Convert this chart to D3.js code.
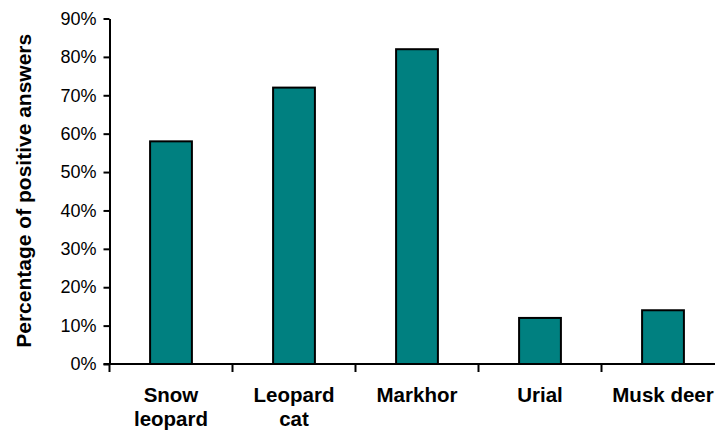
<!DOCTYPE html>
<html>
<head>
<meta charset="utf-8">
<script src="https://cdn.jsdelivr.net/npm/d3@7"></script>
<style>
  html, body { margin: 0; padding: 0; background: #fff; }
  svg { display: block; }
</style>
</head>
<body>
<svg id="chart" width="715" height="432"></svg>
<script>
const categories = [["Snow", "leopard"], ["Leopard", "cat"], ["Markhor"], ["Urial"], ["Musk deer"]];
const values = [58, 72, 82, 12, 14];
const yTicks = [0, 10, 20, 30, 40, 50, 60, 70, 80, 90];
const yTitle = "Percentage of positive answers";

const svg = d3.select("#chart");
const font = "'Liberation Sans', Arial, sans-serif";

const mLeft = 109.5, mRight = 724.5, mTop = 18.5, mBottom = 364;
const keys = categories.map(c => c.join(" "));

const x = d3.scaleBand().domain(keys).range([mLeft, mRight]).paddingInner(0).paddingOuter(0);
const y = d3.scaleLinear().domain([0, 90]).range([mBottom, mTop]);
const barW = x.bandwidth() * 0.34;

// bars
svg.append("g").selectAll("rect")
  .data(values)
  .join("rect")
  .attr("x", (d, i) => x(keys[i]) + x.bandwidth() / 2 - barW / 2)
  .attr("y", d => y(d))
  .attr("width", barW)
  .attr("height", d => y(0) - y(d))
  .attr("fill", "#008080")
  .attr("stroke", "#000")
  .attr("stroke-width", 2);

// y axis
const yAxis = d3.axisLeft(y).tickValues(yTicks).tickFormat(d => d + "%").tickSize(6).tickPadding(7).tickSizeOuter(0);
const gy = svg.append("g").attr("transform", `translate(${mLeft},0)`).call(yAxis);
gy.select(".domain").attr("stroke", "#000").attr("stroke-width", 2);
gy.selectAll(".tick line").attr("stroke", "#000").attr("stroke-width", 2);
gy.selectAll(".tick text").attr("font-family", font).attr("font-size", 18).attr("fill", "#000");

// x axis line with ticks at category boundaries
const gx = svg.append("g");
gx.append("line")
  .attr("x1", mLeft - 6).attr("x2", mRight)
  .attr("y1", mBottom).attr("y2", mBottom)
  .attr("stroke", "#000").attr("stroke-width", 2);
const boundaries = keys.map(k => x(k)).concat([x(keys[keys.length - 1]) + x.step()]);
gx.selectAll("line.b")
  .data(boundaries)
  .join("line")
  .attr("class", "b")
  .attr("x1", d => d).attr("x2", d => d)
  .attr("y1", mBottom).attr("y2", mBottom + 8)
  .attr("stroke", "#000").attr("stroke-width", 2);

// category labels
const lab = svg.append("g").selectAll("text")
  .data(categories)
  .join("text")
  .attr("x", (d, i) => x(keys[i]) + x.bandwidth() / 2)
  .attr("y", 401.5)
  .attr("text-anchor", "middle")
  .attr("font-family", font)
  .attr("font-weight", "bold")
  .attr("font-size", 20.5)
  .attr("fill", "#000");
lab.each(function(d) {
  const t = d3.select(this);
  d.forEach((line, j) => {
    t.append("tspan")
      .attr("x", t.attr("x"))
      .attr("dy", j === 0 ? 0 : 24.5)
      .text(line);
  });
});

// y title
svg.append("text")
  .attr("transform", `translate(30.5,${(mTop + mBottom) / 2 - 0.5}) rotate(-90)`)
  .attr("text-anchor", "middle")
  .attr("font-family", font)
  .attr("font-weight", "bold")
  .attr("font-size", 21)
  .attr("fill", "#000")
  .text(yTitle);
</script>
</body>
</html>
